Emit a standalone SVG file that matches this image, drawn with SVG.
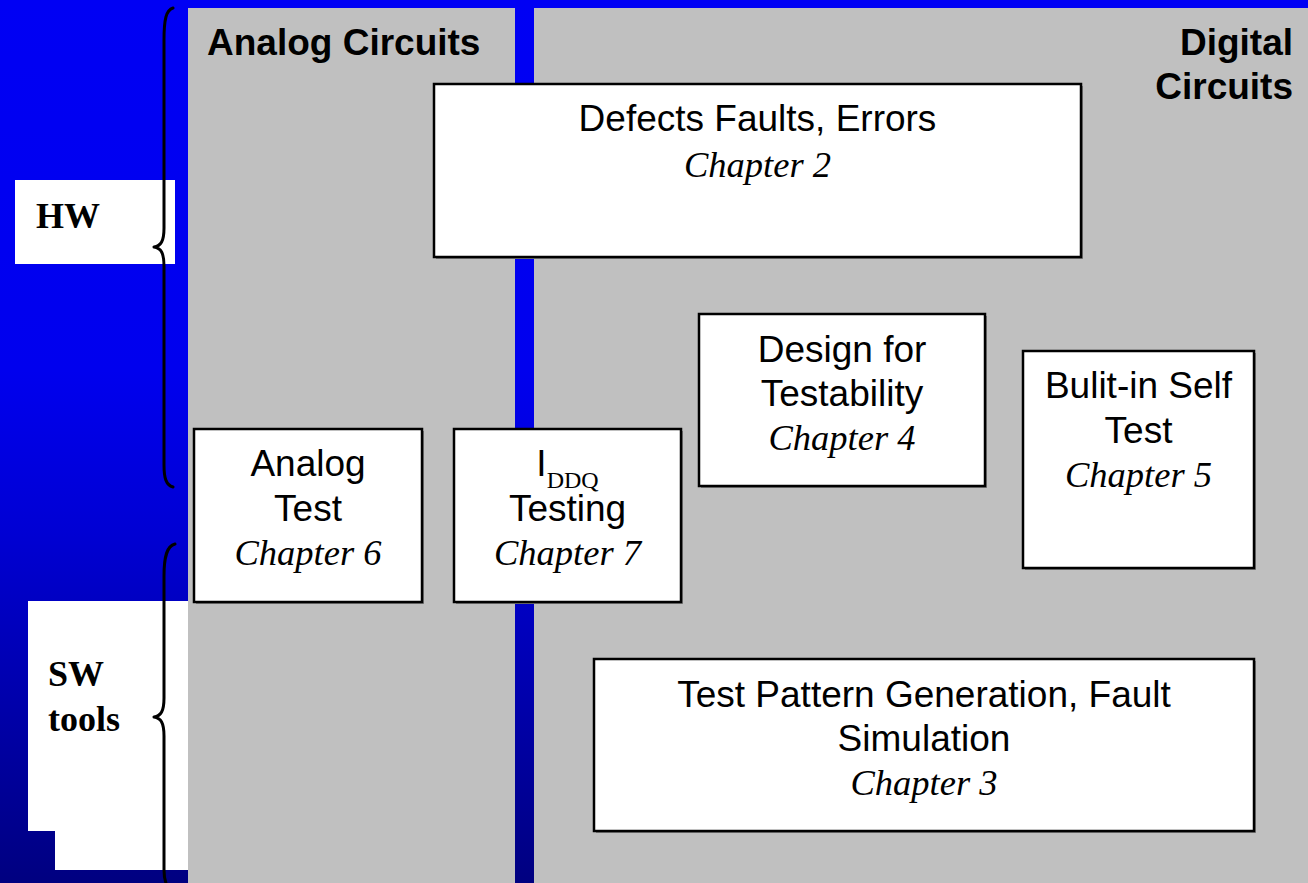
<svg xmlns="http://www.w3.org/2000/svg" width="1308" height="883" viewBox="0 0 1308 883">
<defs>
<linearGradient id="bg" x1="0" y1="0" x2="0" y2="1">
<stop offset="0" stop-color="#0000F4"/>
<stop offset="0.42" stop-color="#0000EE"/>
<stop offset="0.6" stop-color="#0000D4"/>
<stop offset="1" stop-color="#000080"/>
</linearGradient>
<style>
.box{fill:#FFFFFF;stroke:#000000;stroke-width:2.5}
.shadow{fill:#808080}
.t{font-family:"Liberation Sans",Arial,sans-serif;font-size:37px;fill:#000;text-anchor:middle}
.ch{font-family:"Liberation Serif","Times New Roman",serif;font-size:36.5px;font-style:italic;fill:#000;text-anchor:middle}
.hd{font-family:"Liberation Sans",Arial,sans-serif;font-size:37px;font-weight:bold;fill:#000}
.side{font-family:"Liberation Serif","Times New Roman",serif;font-size:36px;font-weight:bold;fill:#000}
.sub{font-family:"Liberation Serif","Times New Roman",serif;font-size:24px}
.brace{fill:none;stroke:#000;stroke-width:3;stroke-linecap:round;stroke-linejoin:round}
</style>
</defs>
<rect x="0" y="0" width="1308" height="883" fill="url(#bg)"/>
<g id="panels">
<rect x="188" y="8" width="327" height="875" fill="#C0C0C0"/>
<rect x="534" y="8" width="774" height="875" fill="#C0C0C0"/>
</g>
<g id="hw-label">
<rect x="15" y="180" width="160" height="84" fill="#FFFFFF"/>
<text class="side" x="36" y="228">HW</text>
</g>
<g id="sw-label">
<polygon points="28,601 188,601 188,870 55,870 55,831 28,831" fill="#FFFFFF"/>
<text class="side" x="48" y="686">SW</text>
<text class="side" x="48" y="731">tools</text>
</g>
<g id="connectors">
<path class="brace" d="M173,8 C166,10 164,20 164,40 L164,228 C164,241 161,246 154,247 C161,248 164,253 164,266 L164,465 C164,478 166,485 173,487"/>
<path class="brace" d="M175,544 C167,546 164,556 164,576 L164,698 C164,711 161,716 154,717 C161,718 164,723 164,736 L164,870 C164,880 166,888 173,892"/>
</g>
<g id="analog-heading">
<text class="hd" x="207" y="55">Analog Circuits</text>
</g>
<g id="digital-heading">
<text class="hd" x="1293" y="55" text-anchor="end">Digital</text>
<text class="hd" x="1293" y="99" text-anchor="end">Circuits</text>
</g>
<g id="defects">
<rect class="shadow" x="436" y="86" width="647" height="173"/>
<rect class="box" x="434" y="84" width="647" height="173"/>
<text class="t" x="757.5" y="131">Defects Faults, Errors</text>
<text class="ch" x="757.5" y="177">Chapter 2</text>
</g>
<g id="dft">
<rect class="shadow" x="701" y="316" width="286" height="172"/>
<rect class="box" x="699" y="314" width="286" height="172"/>
<text class="t" x="842" y="362">Design for</text>
<text class="t" x="842" y="406">Testability</text>
<text class="ch" x="842" y="450">Chapter 4</text>
</g>
<g id="bist">
<rect class="shadow" x="1025" y="353" width="231" height="217"/>
<rect class="box" x="1023" y="351" width="231" height="217"/>
<text class="t" x="1138.5" y="398">Bulit-in Self</text>
<text class="t" x="1138.5" y="443">Test</text>
<text class="ch" x="1138.5" y="487">Chapter 5</text>
</g>
<g id="analog-test">
<rect class="shadow" x="196" y="431" width="228" height="173"/>
<rect class="box" x="194" y="429" width="228" height="173"/>
<text class="t" x="308" y="476">Analog</text>
<text class="t" x="308" y="521">Test</text>
<text class="ch" x="308" y="565">Chapter 6</text>
</g>
<g id="iddq">
<rect class="shadow" x="456" y="431" width="227" height="173"/>
<rect class="box" x="454" y="429" width="227" height="173"/>
<text class="t" x="567.5" y="476">I<tspan class="sub" dy="12">DDQ</tspan></text>
<text class="t" x="567.5" y="521">Testing</text>
<text class="ch" x="567.5" y="565">Chapter 7</text>
</g>
<g id="atpg">
<rect class="shadow" x="596" y="661" width="660" height="172"/>
<rect class="box" x="594" y="659" width="660" height="172"/>
<text class="t" x="924" y="707">Test Pattern Generation, Fault</text>
<text class="t" x="924" y="751">Simulation</text>
<text class="ch" x="924" y="795">Chapter 3</text>
</g>
</svg>
